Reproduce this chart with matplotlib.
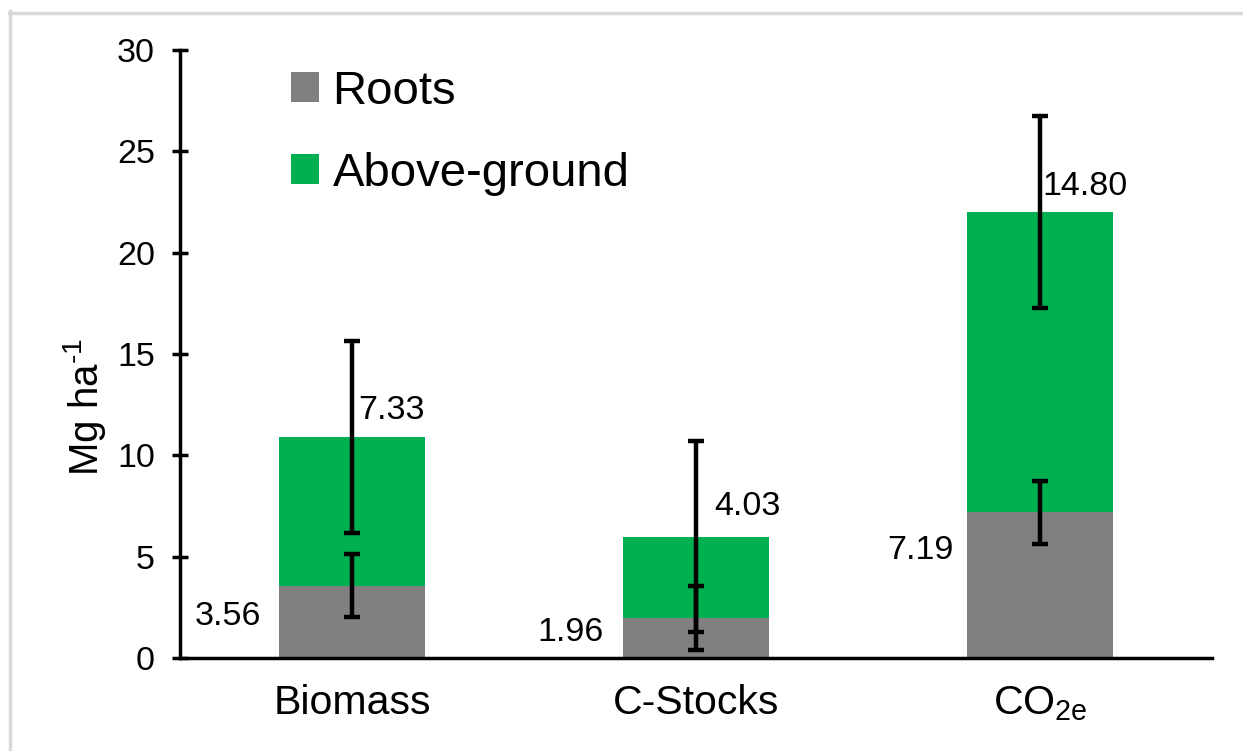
import matplotlib
matplotlib.use('Agg')
import matplotlib.pyplot as plt
from matplotlib.lines import Line2D

# data
categories = ['Biomass', 'C-Stocks', 'CO$_{2e}$']
roots = [3.56, 1.96, 7.19]
above_ground = [7.33, 4.03, 14.80]
roots_err = [1.56, 1.57, 1.56]
above_err = [4.73, 4.73, 4.74]

# label offsets in pixels (dx, dy) from the bar centre / segment anchor
roots_label_offsets = [(-124, 5), (-126, 6), (-120, 35)]
above_label_offsets = [(40, 27), (51, 30), (45, 26)]

plt.rcParams['font.family'] = ['Liberation Sans', 'DejaVu Sans']
plt.rcParams['mathtext.default'] = 'regular'

W, H = 1243, 751
fig = plt.figure(figsize=(W / 100, H / 100), dpi=100)
ax = fig.add_axes([180 / W, 1 - 658 / H, (1212 - 180) / W, (658 - 50) / H])

gray = '#808080'
green = '#00B050'
x = list(range(len(categories)))
totals = [r + a for r, a in zip(roots, above_ground)]

ax.bar(x, roots, width=0.425, color=gray, label='Roots', zorder=2)
ax.bar(x, above_ground, width=0.425, bottom=roots, color=green, label='Above-ground', zorder=2)

# error bars: roots at the roots top, above-ground at the stack top
ax.errorbar(x, roots, yerr=roots_err, fmt='none', ecolor='black',
            elinewidth=3.2, capsize=6, capthick=3.2, zorder=3)
ax.errorbar(x, totals, yerr=above_err, fmt='none', ecolor='black',
            elinewidth=3.2, capsize=6, capthick=3.2, zorder=3)

# data labels
for i in x:
    dx, dy = roots_label_offsets[i]
    ax.annotate(f'{roots[i]:.2f}', xy=(i, roots[i] / 2), xytext=(dx * 0.72, dy * 0.72),
                textcoords='offset points', ha='center', va='center', fontsize=24.5)
    dx, dy = above_label_offsets[i]
    ax.annotate(f'{above_ground[i]:.2f}', xy=(i, totals[i]), xytext=(dx * 0.72, dy * 0.72),
                textcoords='offset points', ha='center', va='center', fontsize=24.5)

ax.set_xlim(-0.5, 2.5)
ax.set_ylim(0, 30)
ax.set_yticks([0, 5, 10, 15, 20, 25, 30])
ax.set_xticks(x)
ax.set_xticklabels(categories, fontsize=29.5)
ax.tick_params(axis='y', direction='inout', length=12, width=2.5, pad=12, labelsize=24.5)
ax.tick_params(axis='x', length=0, pad=19)

for side in ['top', 'right']:
    ax.spines[side].set_visible(False)
for side in ['left', 'bottom']:
    ax.spines[side].set_linewidth(2.5)

fig.text(85 / W, 1 - 407 / H, 'Mg ha$^{\u20101}$', rotation=90, ha='center', va='center', fontsize=29)

ax.legend(loc='upper left', bbox_to_anchor=(291 / W, 1 - 70 / H), bbox_transform=fig.transFigure,
          frameon=False, fontsize=34, handlelength=0.6, handleheight=0.6,
          handletextpad=0.28, labelspacing=0.8, borderpad=0, borderaxespad=0)

# light frame around the figure (only top and left visible in the reference)
fig.add_artist(Line2D([10.5 / W, 10.5 / W], [0, 1 - 11 / H], transform=fig.transFigure,
                      color='#d9d9d9', lw=2.5))
fig.add_artist(Line2D([9 / W, 1], [1 - 12.5 / H, 1 - 12.5 / H], transform=fig.transFigure,
                      color='#d9d9d9', lw=2.5))

fig.savefig('out.png', dpi=100)
